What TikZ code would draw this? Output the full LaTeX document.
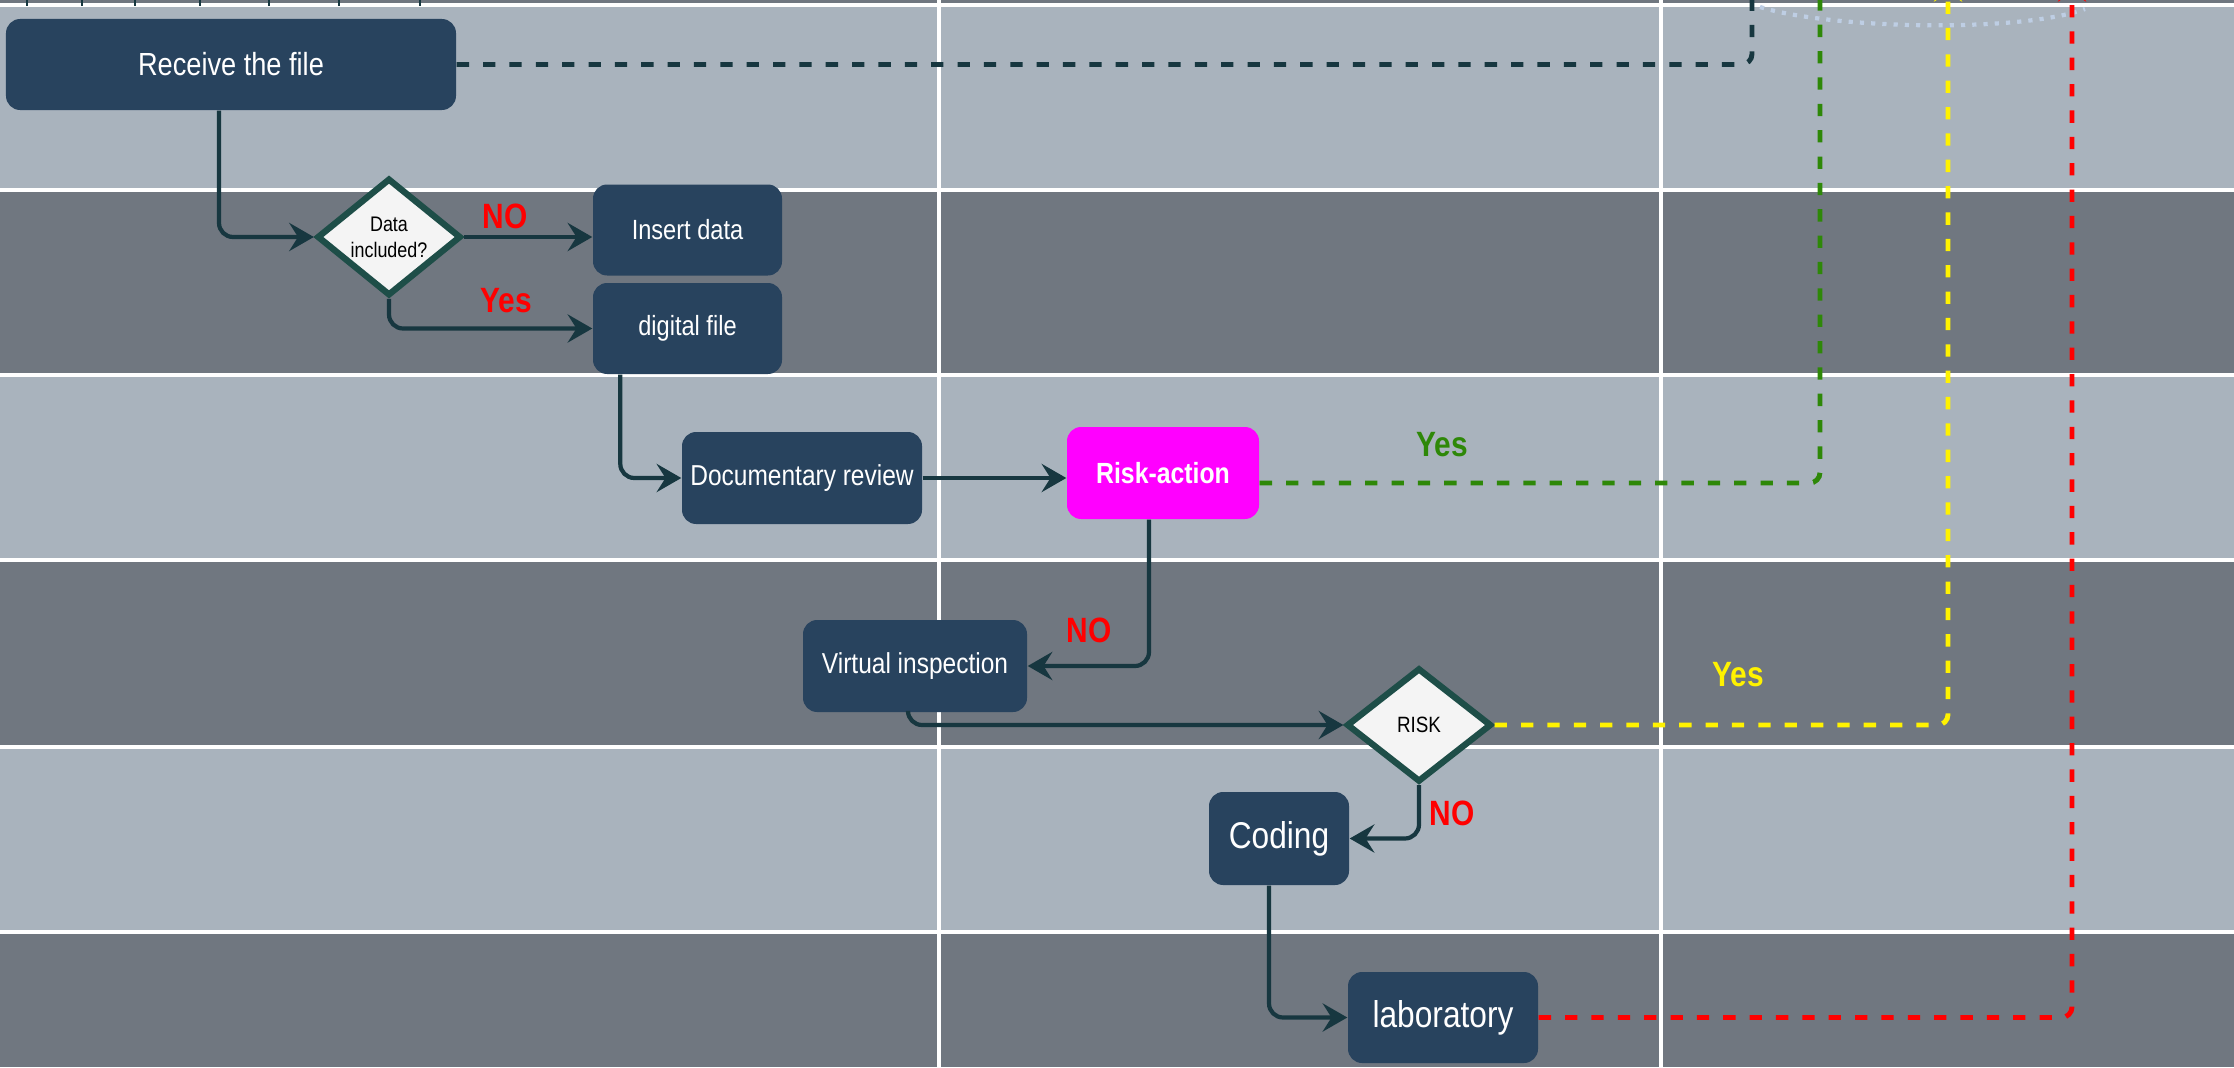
\documentclass[tikz,border=0pt]{standalone}
\usepackage{fontspec}
\setmainfont[FakeStretch=0.85]{Liberation Sans}
\usetikzlibrary{shapes.geometric,arrows.meta}
\definecolor{bandlight}{RGB}{169,179,189}
\definecolor{banddark}{RGB}{112,119,128}
\definecolor{boxblue}{RGB}{40,67,94}
\definecolor{conn}{RGB}{23,55,64}
\definecolor{rim}{RGB}{30,78,72}
\definecolor{paper}{RGB}{244,244,244}
\definecolor{riskpink}{RGB}{255,0,255}
\definecolor{yesgreen}{RGB}{46,136,8}
\definecolor{skyline}{RGB}{190,206,228}

\begin{document}
\begin{tikzpicture}[
  box/.style={rectangle, rounded corners=4pt, fill=boxblue, text=white, minimum height=.91cm, inner sep=1pt},
  decision/.style={diamond, draw=rim, line width=1.8pt, fill=paper, inner sep=0pt, align=center, minimum width=1.44cm, minimum height=1.12cm},
  flow/.style={draw=conn, line width=1.2pt, rounded corners=4pt, -{Stealth[length=7pt, width=8pt, inset=2.5pt]}},
  link/.style={line width=1.4pt, dash pattern=on 3.5pt off 4pt, rounded corners=3pt},
  lbl/.style={font=\bfseries\fontsize{10}{12}\selectfont}]
  \useasboundingbox (0cm, 0cm) rectangle (22.34cm, 10.67cm);
  \fill[banddark] (0cm, 0cm) rectangle (22.34cm, 10.67cm);
  \fill[bandlight] (0cm, 8.77cm) rectangle (22.34cm, 10.63cm);
  \fill[bandlight] (0cm, 5.07cm) rectangle (22.34cm, 6.92cm);
  \fill[bandlight] (0cm, 1.35cm) rectangle (22.34cm, 3.20cm);
  \foreach \y in {1.35, 3.20, 5.07, 6.92, 8.77, 10.62}
    \draw[white, line width=1pt] (0cm, \y cm) -- (22.34cm, \y cm);
  \foreach \x in {9.39, 16.61}
    \draw[white, line width=1pt] (\x cm, 0cm) -- (\x cm, 10.67cm);
  \foreach \x in {0.27, 0.82, 1.35, 2.00, 2.69, 3.39, 4.20}
    \draw[conn, line width=.6pt] (\x cm, 10.61cm) -- (\x cm, 10.67cm);
  \draw[skyline, line width=1.2pt, dotted] (17.60cm, 10.60cm) .. controls (18.3cm, 10.38cm) and (20.2cm, 10.34cm) .. (20.85cm, 10.58cm);

  \node[box, minimum width=4.5cm, font=\fontsize{9.1}{11}\selectfont] (0) at (2.31cm, 10.025cm) {Receive the file};
  \node[decision, font=\fontsize{6}{7.4}\selectfont] (1) at (3.89cm, 8.30cm) {Data\\included?};
  \node[box, minimum width=1.89cm, font=\fontsize{7.9}{9}\selectfont] (2) at (6.875cm, 8.37cm) {Insert data};
  \node[box, minimum width=1.89cm, font=\fontsize{7.9}{9}\selectfont] (3) at (6.875cm, 7.385cm) {digital file};
  \node[box, minimum width=2.4cm, minimum height=.92cm, font=\fontsize{8.2}{10}\selectfont] (4) at (8.02cm, 5.89cm) {Documentary review};
  \node[box, fill=riskpink, minimum width=1.92cm, minimum height=.92cm, font=\bfseries\fontsize{8.3}{10}\selectfont] (5) at (11.63cm, 5.94cm) {Risk-action};
  \node[box, minimum width=2.24cm, minimum height=.92cm, font=\fontsize{8.2}{10}\selectfont] (6) at (9.15cm, 4.01cm) {Virtual inspection};
  \node[decision, minimum width=1.45cm, minimum height=1.14cm, font=\fontsize{6.3}{7.5}\selectfont] (7) at (14.19cm, 3.42cm) {RISK};
  \node[box, minimum width=1.4cm, minimum height=.93cm, font=\fontsize{10.6}{12}\selectfont] (8) at (12.79cm, 2.285cm) {Coding};
  \node[box, minimum width=1.9cm, font=\fontsize{10.6}{12}\selectfont] (9) at (14.43cm, 0.495cm) {laboratory};

  \coordinate (t0) at (17.52cm, 10.72cm);
  \coordinate (t5) at (18.20cm, 10.72cm);
  \coordinate (t7) at (19.48cm, 10.90cm);
  \coordinate (t9) at (20.72cm, 10.90cm);

  \draw[flow] ([xshift=-.12cm]0.south) |- (1.west);
  \draw[flow] (1.east) -- (1.east -| 2.west);
  \draw[flow] (1.south) |- (3.west);
  \draw[flow] ([xshift=.28cm]3.south west) |- (4.west);
  \draw[flow] (4.east) -- (4.east -| 5.west);
  \draw[flow] ([xshift=-.14cm]5.south) |- (6.east);
  \draw[flow] ([xshift=-.07cm]6.south) |- (7.west);
  \draw[flow] (7.south) |- (8.east);
  \draw[flow] ([xshift=-.1cm]8.south) |- (9.west);

  \draw[link, conn] (0.east) -| (t0);
  \draw[link, yesgreen] ([yshift=-.1cm]5.east) -| (t5);
  \draw[link, yellow, -{Stealth[length=7pt, width=8pt, inset=2.5pt]}] (7.east) -| (t7);
  \draw[link, red, -{Stealth[length=7pt, width=8pt, inset=2.5pt]}] (9.east) -| (t9);

  \node[lbl, red] (n1) at (5.05cm, 8.51cm) {NO};
  \node[lbl, red] (y1) at (5.06cm, 7.66cm) {Yes};
  \node[lbl, yesgreen] (y5) at (14.42cm, 6.22cm) {Yes};
  \node[lbl, red] (n5) at (10.89cm, 4.37cm) {NO};
  \node[lbl, yellow] (y7) at (17.38cm, 3.92cm) {Yes};
  \node[lbl, red] (n7) at (14.52cm, 2.54cm) {NO};
\end{tikzpicture}
\end{document}
